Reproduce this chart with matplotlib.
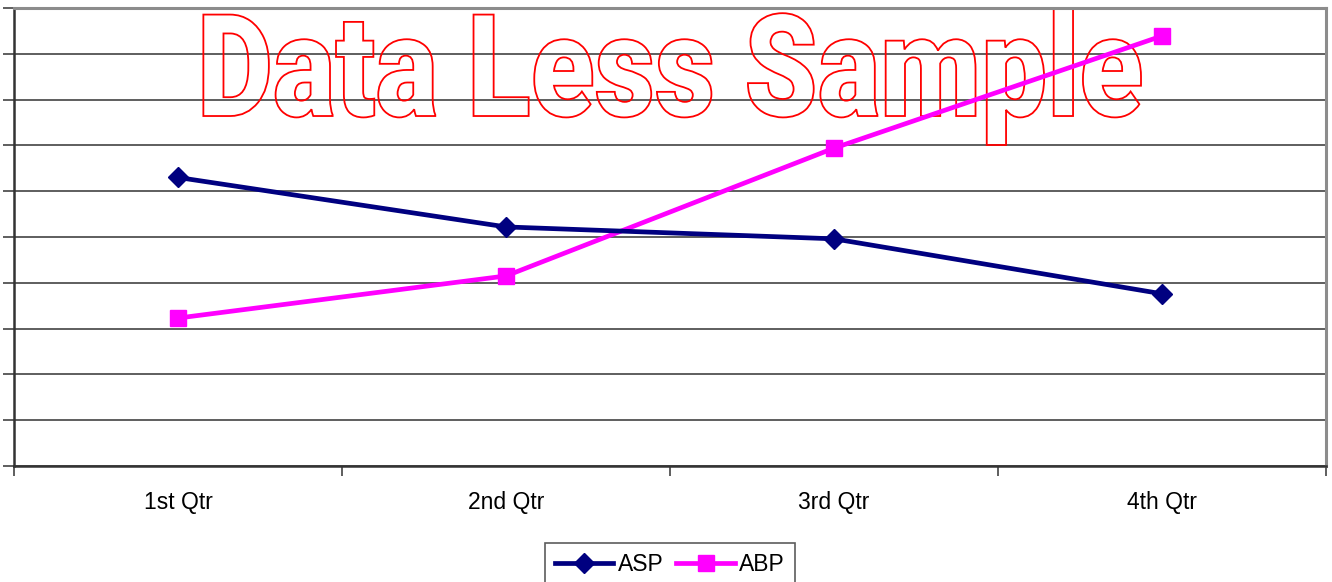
import matplotlib
matplotlib.use("Agg")
import matplotlib.pyplot as plt
from matplotlib.textpath import TextPath
from matplotlib.patches import PathPatch
from matplotlib.font_manager import FontProperties, findfont
from matplotlib.transforms import Affine2D

categories = ["1st Qtr", "2nd Qtr", "3rd Qtr", "4th Qtr"]
asp = [63, 52.2, 49.6, 37.6]
abp = [32.3, 41.5, 69.4, 93.9]
watermark = "Data Less Sample"

W, H = 1332, 582
fig = plt.figure(figsize=(W / 100, H / 100), dpi=100)
plt.rcParams['font.family'] = ['Liberation Sans', 'DejaVu Sans']

L, R, T, B = 14, 1326, 8, 466
ax = fig.add_axes([L / W, (H - B) / H, (R - L) / W, (B - T) / H])

x = list(range(len(categories)))
ax.set_xlim(-0.5, len(categories) - 0.5)
ax.set_ylim(0, 100)

ax.set_yticks(range(0, 101, 10))
ax.set_yticklabels([])
ax.yaxis.grid(True, color='#333333', linewidth=1.1, zorder=1)
ax.set_axisbelow(True)
ax.tick_params(axis='y', length=8, width=1.1, color='#333333', direction='out')

ax.set_xticks([i - 0.5 for i in range(len(categories) + 1)])
ax.set_xticklabels([])
ax.tick_params(axis='x', which='major', length=7, width=1.1, color='#333333', direction='out')
ax.set_xticks(x, minor=True)
ax.set_xticklabels(categories, minor=True, fontsize=16.5)
ax.tick_params(axis='x', which='minor', length=0, pad=18)

for s in ['left', 'bottom']:
    ax.spines[s].set_color('#333333')
    ax.spines[s].set_linewidth(1.8)
for s in ['top', 'right']:
    ax.spines[s].set_color('#8c8c8c')
    ax.spines[s].set_linewidth(2.2)

# watermark outline
fp = None
for fam, wt in [('Roboto', 900), ('Lato', 900), ('Inter', 900), ('DejaVu Sans', 'bold')]:
    try:
        cand = FontProperties(family=fam, weight=wt)
        findfont(cand, fallback_to_default=False)
        fp = cand
        break
    except Exception:
        pass
if fp is None:
    fp = FontProperties(family='DejaVu Sans', weight='bold')
tp = TextPath((0, 0), watermark, prop=fp, size=100)
v = tp.vertices
xmin, xmax = v[:, 0].min(), v[:, 0].max()
ymin, ymax = v[:, 1].min(), v[:, 1].max()
px0, px1 = 197, 1141
py_top, py_bot = 9, 145
sx = (px1 - px0) / (xmax - xmin) / W
sy = (py_bot - py_top) / (ymax - ymin) / H
tr = Affine2D().translate(-xmin, -ymin).scale(sx, sy).translate(px0 / W, (H - py_bot) / H)
path = tr.transform_path(tp)
patch = PathPatch(path, facecolor='none', edgecolor='#ff0000', linewidth=1.3,
                  transform=fig.transFigure, zorder=2.5, clip_on=False)
ax.add_patch(patch)

ax.plot(x, asp, color='#000080', linewidth=3.4, marker='D', markersize=10,
        label='ASP', zorder=4, clip_on=False)
ax.plot(x, abp, color='#ff00ff', linewidth=3.4, marker='s', markersize=11,
        label='ABP', zorder=3, clip_on=False)

leg = fig.legend(loc='upper center', bbox_to_anchor=(670 / W, (H - 543) / H), ncol=2,
                 fontsize=16.5, frameon=True, fancybox=False, edgecolor='#333333',
                 handlelength=2.55, handletextpad=0.2, columnspacing=0.55,
                 borderpad=0.42, borderaxespad=0)
leg.get_frame().set_linewidth(1.2)

fig.savefig('out.png', dpi=100)
